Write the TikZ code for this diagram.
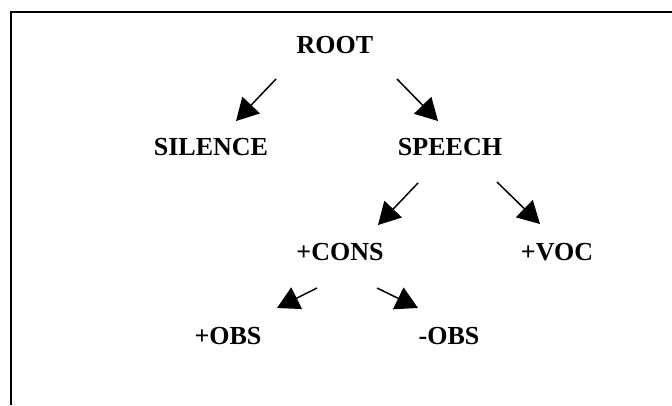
\documentclass[tikz,border=0pt]{standalone}
\usepackage{fontspec}
\setmainfont{Liberation Serif}
\usetikzlibrary{arrows.meta}
\tikzset{
  lbl/.style={inner sep=0pt, anchor=center, font=\fontsize{26}{30}\selectfont\bfseries},
  arr/.style={line width=1.5pt, -{Triangle[length=22pt,width=24pt]}}
}
\begin{document}
\begin{tikzpicture}[x=1pt,y=-1pt]
\useasboundingbox (0,0) rectangle (672,405);
\draw[line width=1.5pt] (11,405) -- (11,12) -- (672,12);
\node[lbl] (root) at (335,45) {ROOT};
\node[lbl] (sil) at (211,147) {SILENCE};
\node[lbl] (sp) at (450,147) {SPEECH};
\node[lbl] (cons) at (340,252) {+CONS};
\node[lbl] (voc) at (557,252) {+VOC};
\node[lbl] (pobs) at (228,336) {+OBS};
\node[lbl] (mobs) at (449,336) {-OBS};
\draw[arr] ([shift={(-59,34)}]root.center) -- ([shift={(25,-26)}]sil.center);
\draw[arr] ([shift={(62,34)}]root.center) -- ([shift={(-12,-26)}]sp.center);
\draw[arr] ([shift={(-32,36)}]sp.center) -- ([shift={(38,-27)}]cons.center);
\draw[arr] ([shift={(47,35)}]sp.center) -- ([shift={(-17,-28)}]voc.center);
\draw[arr] ([shift={(-23,36)}]cons.center) -- ([shift={(49,-28)}]pobs.center);
\draw[arr] ([shift={(37,36)}]cons.center) -- ([shift={(-31,-28)}]mobs.center);
\end{tikzpicture}
\end{document}
